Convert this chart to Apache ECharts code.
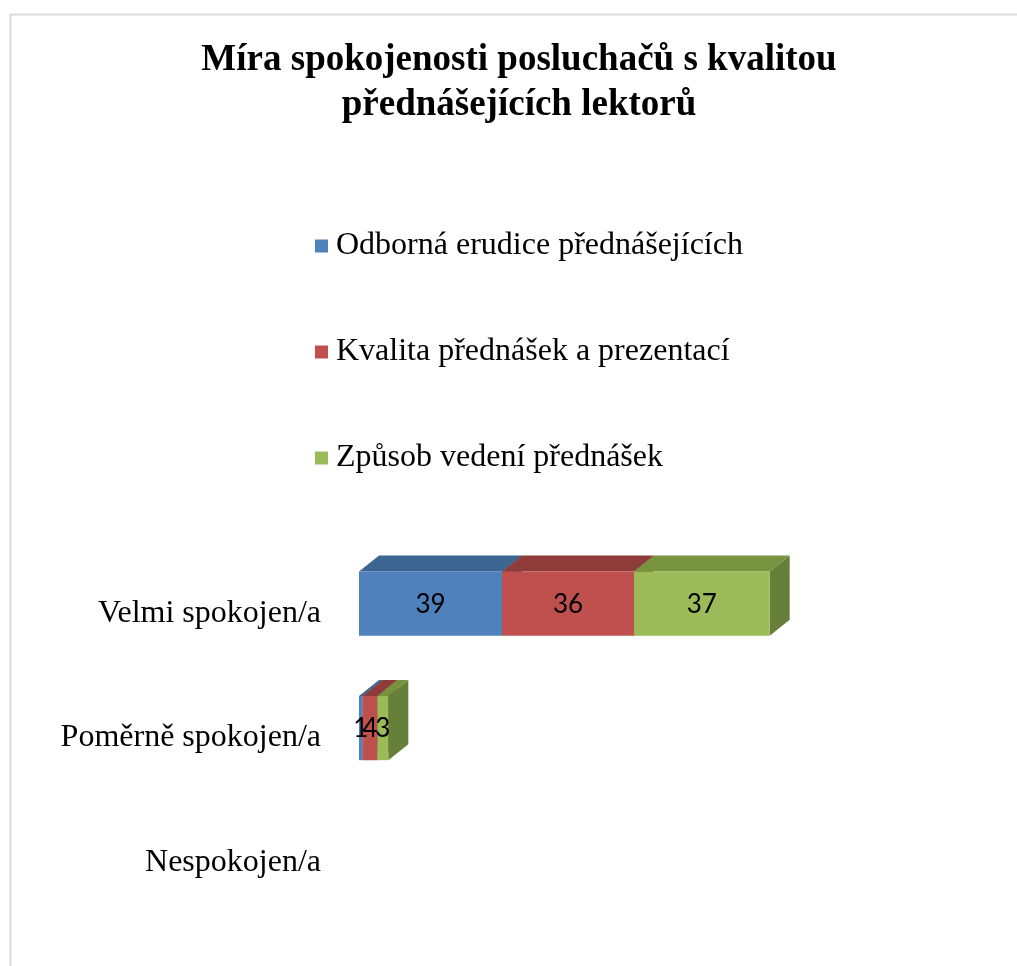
<!DOCTYPE html>
<html>
<head>
<meta charset="utf-8">
<script src="https://cdn.jsdelivr.net/npm/echarts@6/dist/echarts.min.js"></script>
<style>
html,body{margin:0;padding:0;background:#fff;}
#chart{width:1017px;height:966px;}
</style>
</head>
<body>
<div id="chart"></div>
<script>
const categories = ['Velmi spokojen/a', 'Poměrně spokojen/a', 'Nespokojen/a'];
const seriesNames = ['Odborná erudice přednášejících', 'Kvalita přednášek a prezentací', 'Způsob vedení přednášek'];
const odbornaErudice = [39, 1, 0];
const kvalitaPrednasek = [36, 4, 0];
const zpusobVedeni = [37, 3, 0];

const seriesValues = [odbornaErudice, kvalitaPrednasek, zpusobVedeni];
const frontColors = ['#4F81BD', '#C0504D', '#9BBB59'];
const topColors = ['#3D6592', '#8F3B3A', '#77933D'];
const sideColors = ['#36587F', '#7E3432', '#66803A'];

const DX = 20, DY = 16;

function makeRender(si) {
  return function (params, api) {
    const cat = api.value(0), start = api.value(1), end = api.value(2), val = api.value(3);
    if (!(val > 0)) return null;
    const p0 = api.coord([start, cat]);
    const p1 = api.coord([end, cat]);
    const band = api.size([0, 1])[1];
    const top = p0[1] - band * 0.335;
    const bot = p0[1] + band * 0.18;
    const x0 = p0[0], x1 = p1[0];
    return {
      type: 'group',
      children: [
        { type: 'polygon', shape: { points: [[x1, top], [x1 + DX, top - DY], [x1 + DX, bot - DY], [x1, bot]] }, style: { fill: sideColors[si] } },
        { type: 'polygon', shape: { points: [[x0, top], [x0 + DX, top - DY], [x1 + DX, top - DY], [x1, top]] }, style: { fill: topColors[si] } },
        { type: 'rect', shape: { x: x0, y: top, width: x1 - x0, height: bot - top }, style: { fill: frontColors[si] } },
        { type: 'text', z2: 100, style: { text: String(val), x: (x0 + x1) / 2, y: (top + bot) / 2 + 1, align: 'center', verticalAlign: 'middle', font: '26px Lato', fill: '#000' } }
      ]
    };
  };
}

const series = seriesValues.map((vals, si) => {
  const data = vals.map((v, ci) => {
    let start = 0;
    for (let k = 0; k < si; k++) start += seriesValues[k][ci];
    return [ci, start, start + v, v];
  });
  return {
    type: 'custom',
    name: seriesNames[si],
    renderItem: makeRender(si),
    encode: { x: [1, 2], y: 0 },
    itemStyle: { color: frontColors[si] },
    data: data
  };
});

const chart = echarts.init(document.getElementById('chart'), null, { renderer: 'canvas' });
chart.setOption({
  animation: false,
  backgroundColor: '#fff',
  graphic: [{
    type: 'rect', left: 8, top: 12, shape: { x: 0, y: 0, width: 1100, height: 1100 },
    style: { fill: 'none', stroke: '#d9d9d9', lineWidth: 2 }, silent: true
  }],
  title: {
    text: 'Míra spokojenosti posluchačů s kvalitou\npřednášejících lektorů',
    left: 514, top: 33, textAlign: 'center',
    textStyle: { fontFamily: 'Liberation Serif', fontWeight: 'bold', fontSize: 37, lineHeight: 45, color: '#000' }
  },
  legend: {
    data: seriesNames,
    orient: 'vertical',
    left: 310, top: 223,
    itemWidth: 13, itemHeight: 13, itemGap: 70,
    icon: 'rect',
    textStyle: { fontFamily: 'Liberation Serif', fontSize: 32, lineHeight: 36, color: '#000', padding: [0, 0, 0, 3] }
  },
  grid: { left: 359, top: 551, height: 373.5, width: 440, containLabel: false },
  xAxis: { type: 'value', min: 0, max: 120, show: false },
  yAxis: {
    type: 'category', data: categories, inverse: true,
    axisLine: { show: false }, axisTick: { show: false }, splitLine: { show: false },
    axisLabel: { margin: 38, fontFamily: 'Liberation Serif', fontSize: 32, color: '#000' }
  },
  series: series
});
</script>
</body>
</html>
